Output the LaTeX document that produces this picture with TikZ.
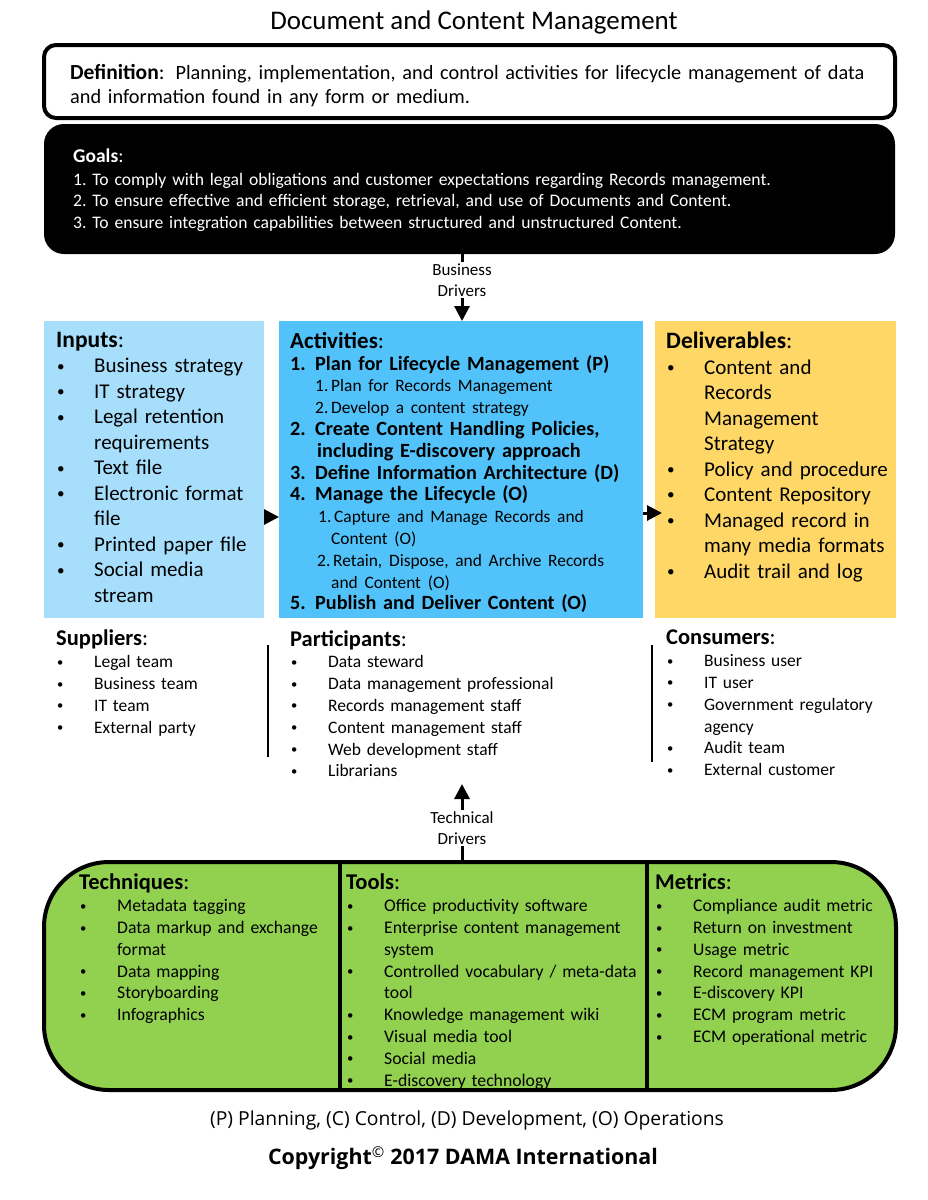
\documentclass[tikz,border=0pt]{standalone}
\usepackage{fontspec}
\usepackage{graphicx}
\setmainfont{Carlito}
\newfontfamily\footfont{Open Sans}
\usetikzlibrary{arrows.meta}
\frenchspacing

\definecolor{inblue}{RGB}{166,222,252}
\definecolor{actblue}{RGB}{82,195,250}
\definecolor{delyellow}{RGB}{254,215,102}
\definecolor{techgreen}{RGB}{146,208,80}

\newcommand{\bul}{\makebox[38pt][l]{\hspace{1pt}\raisebox{0.09em}{\scalebox{0.72}{\textbullet}}}}
\newcommand{\cnt}{\hspace*{38pt}}
\newcommand{\num}[1]{\makebox[25pt][l]{#1}}
\newcommand{\subnum}[1]{\makebox[16pt][l]{#1}}
\newcommand{\hd}[2][20]{{\fontsize{#1}{#1}\selectfont\textbf{#2}{\mdseries:}}}
\newcommand{\actsub}{\mdseries\fontsize{17.4}{21.8}\selectfont}

\tikzset{
  colbox/.style={anchor=north west, inner sep=0pt, outer sep=0pt},
  listtext/.style={anchor=north west, inner sep=0pt, align=left, text width=#1},
  driver/.style={align=center, font=\fontsize{17}{21}\selectfont, inner sep=1pt},
  drvline/.style={line width=3pt},
  tri/.style={-{Triangle[width=15pt,length=15pt]}, line width=3pt},
}

\begin{document}
\begin{tikzpicture}[x=1pt,y=-1pt]
\useasboundingbox[fill=white] (0,0) rectangle (927,1200);

% title and definition
\node[font=\fontsize{26.9}{30}\selectfont] (title) at (474,22) {Document and Content Management};
\node[colbox, draw, line width=4pt, rounded corners=12pt, minimum width=851pt, minimum height=73pt] (def) at (44,45) {};
\node[listtext=840pt, font=\fontsize{20.3}{24}\selectfont] (deftext) at (70,64)
  {\hd[21.5]{Definition}\hspace{11pt}Planning, implementation, and control activities for lifecycle management of data\\
   and information found in any form or medium.};

% goals
\node[colbox, fill=black, rounded corners=20pt, minimum width=851pt, minimum height=130pt] (goals) at (44,124) {};
\node[listtext=830pt, text=white, font=\fontsize{17.6}{21.5}\selectfont] (goaltext) at (73,149)
  {\hd[19.5]{Goals}\\[1pt]
   1. To comply with legal obligations and customer expectations regarding Records management.\\
   2. To ensure effective and efficient storage, retrieval, and use of Documents and Content.\\
   3. To ensure integration capabilities between structured and unstructured Content.};

% three columns
\node[colbox, fill=inblue, minimum width=220pt, minimum height=297pt] (inp) at (44,321) {};
\node[colbox, fill=actblue, minimum width=364pt, minimum height=297pt] (act) at (279,321) {};
\node[colbox, fill=delyellow, minimum width=241pt, minimum height=297pt] (del) at (655,321) {};

\node[listtext=215pt, font=\fontsize{21}{25.5}\selectfont] (inptext) at (56,332)
  {\hd[23.5]{Inputs}\\
   \bul Business strategy\\
   \bul IT strategy\\
   \bul Legal retention\\
   \cnt requirements\\
   \bul Text file\\
   \bul Electronic format\\
   \cnt file\\
   \bul Printed paper file\\
   \bul Social media\\
   \cnt stream};

\node[listtext=360pt, font=\fontsize{20.2}{21.8}\selectfont\bfseries] (acttext) at (290,332)
  {\hd[23]{Activities}\\
   \num{1.}Plan for Lifecycle Management (P)\\
   {\actsub\hspace*{25pt}\subnum{1.}Plan for Records Management}\\
   {\actsub\hspace*{25pt}\subnum{2.}Develop a content strategy}\\
   \num{2.}Create Content Handling Policies,\\
   \hspace*{27pt}including E-discovery approach\\
   \num{3.}Define Information Architecture (D)\\
   \num{4.}Manage the Lifecycle (O)\\
   {\actsub\hspace*{28pt}\subnum{1.}Capture and Manage Records and}\\
   {\actsub\hspace*{41pt}Content (O)}\\
   {\actsub\hspace*{27pt}\subnum{2.}Retain, Dispose, and Archive Records}\\
   {\actsub\hspace*{41pt}and Content (O)}\\
   \num{5.}Publish and Deliver Content (O)};

\node[listtext=240pt, font=\fontsize{21}{25.5}\selectfont] (deltext) at (666,332)
  {\hd[23.5]{Deliverables}\\
   \bul Content and\\
   \cnt Records\\
   \cnt Management\\
   \cnt Strategy\\
   \bul Policy and procedure\\
   \bul Content Repository\\
   \bul Managed record in\\
   \cnt many media formats\\
   \bul Audit trail and log};

% business drivers
\node[driver] (bd) at (462,280) {Business\\Drivers};
\draw[drvline] (bd.north |- goals.south) -- (bd.north);
\draw[tri] (bd.south) -- (bd.south |- act.north);

\draw[tri] (inp.east |- 0,517) -- (act.west |- 0,517);
\draw[tri] (act.east |- 0,513) -- (662,513);

% suppliers, participants, consumers
\node[listtext=210pt, font=\fontsize{17.5}{21.8}\selectfont] (suptext) at (56,630)
  {\hd[22.5]{Suppliers}\\
   \bul Legal team\\
   \bul Business team\\
   \bul IT team\\
   \bul External party};
\node[listtext=350pt, font=\fontsize{17.5}{21.8}\selectfont] (parttext) at (290,630)
  {\hd[22.5]{Participants}\\
   \bul Data steward\\
   \bul Data management professional\\
   \bul Records management staff\\
   \bul Content management staff\\
   \bul Web development staff\\
   \bul Librarians};
\node[listtext=250pt, font=\fontsize{17.5}{21.8}\selectfont] (context) at (666,630)
  {\hd[22.5]{Consumers}\\
   \bul Business user\\
   \bul IT user\\
   \bul Government regulatory\\
   \cnt agency\\
   \bul Audit team\\
   \bul External customer};
\draw[line width=1.5pt] (268,645) -- (268,757);
\draw[line width=1.5pt] (652,645) -- (652,762);

% technical drivers
\node[driver] (td) at (462,828) {Technical\\Drivers};
\coordinate (tdtip) at (462,784);
\draw[tri] (td.north) -- (tdtip);

% techniques, tools, metrics
\node[colbox, fill=techgreen, draw, line width=4pt, rounded corners=65pt, minimum width=852pt, minimum height=228pt] (tech) at (44,862) {};
\draw[drvline] (td.south) -- (td.south |- tech.north);
\draw[line width=4pt] (340,862) -- (340,1090);
\draw[line width=4pt] (647,862) -- (647,1090);

\node[listtext=255pt, font=\fontsize{17.7}{21.8}\selectfont] (techtext) at (79,874)
  {\hd[22.5]{Techniques}\\
   \bul Metadata tagging\\
   \bul Data markup and exchange\\
   \cnt format\\
   \bul Data mapping\\
   \bul Storyboarding\\
   \bul Infographics};
\node[listtext=300pt, font=\fontsize{17.7}{21.8}\selectfont] (tooltext) at (346,874)
  {\hd[22.5]{Tools}\\
   \bul Office productivity software\\
   \bul Enterprise content management\\
   \cnt system\\
   \bul Controlled vocabulary / meta-data\\
   \cnt tool\\
   \bul Knowledge management wiki\\
   \bul Visual media tool\\
   \bul Social media\\
   \bul E-discovery technology};
\node[listtext=240pt, font=\fontsize{17.7}{21.8}\selectfont] (mettext) at (655,874)
  {\hd[22.5]{Metrics}\\
   \bul Compliance audit metric\\
   \bul Return on investment\\
   \bul Usage metric\\
   \bul Record management KPI\\
   \bul E-discovery KPI\\
   \bul ECM program metric\\
   \bul ECM operational metric};

% footer
\node[font=\footfont\fontsize{19.3}{21}\selectfont] (legend) at (467,1120) {(P) Planning, (C) Control, (D) Development, (O) Operations};
\node[font=\footfont\fontsize{21.4}{23}\selectfont\bfseries] (copy) at (463,1158) {Copyright{\mdseries\textsuperscript{\textcopyright}} 2017 DAMA International};
\end{tikzpicture}
\end{document}
